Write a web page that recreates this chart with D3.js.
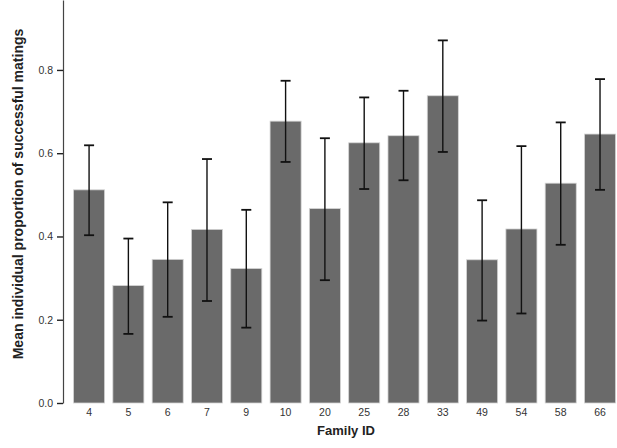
<!DOCTYPE html>
<html lang="en">
<head>
  <meta charset="UTF-8">
  <title>Mean individual proportion of successful matings</title>
  <script src="https://d3js.org/d3.v7.min.js"></script>
  <style>
    body {
      margin: 0;
      background: #fff;
      font-family: "Liberation Sans", Arial, sans-serif;
    }
    svg { display: block; }
  </style>
</head>
<body>
  <svg id="chart" width="617" height="448"></svg>
  <script>
    // Family IDs and mean proportions
    const families = ["4", "5", "6", "7", "9", "10", "20", "25", "28", "33", "49", "54", "58", "66"];
    const means = [0.512, 0.282, 0.345, 0.417, 0.323, 0.677, 0.467, 0.625, 0.642, 0.738, 0.344, 0.418, 0.528, 0.646];
    const errLow = [0.403, 0.166, 0.207, 0.245, 0.181, 0.579, 0.295, 0.514, 0.535, 0.603, 0.198, 0.215, 0.380, 0.512];
    const errHigh = [0.619, 0.395, 0.482, 0.586, 0.464, 0.774, 0.636, 0.734, 0.750, 0.871, 0.487, 0.617, 0.674, 0.778];
    const yTicks = [0.0, 0.2, 0.4, 0.6, 0.8];

    const data = families.map((f, i) => ({ id: f, mean: means[i], lo: errLow[i], hi: errHigh[i] }));

    const svg = d3.select("#chart");
    const axisX = 63, baseY = 403;

    const x = d3.scaleBand()
      .domain(families)
      .range([65.3, 623.8])
      .paddingInner(0.21)
      .paddingOuter(0.21);

    const y = d3.scaleLinear()
      .domain([0, 0.968])
      .range([baseY, 0]);

    // bars
    svg.append("g").selectAll("rect")
      .data(data)
      .join("rect")
      .attr("x", d => x(d.id))
      .attr("y", d => y(d.mean))
      .attr("width", x.bandwidth())
      .attr("height", d => y(0) - y(d.mean))
      .attr("fill", "#6a6a6a")
      .attr("stroke", "#d4d4d4")
      .attr("stroke-width", 0.8);

    // error bars
    const eb = svg.append("g").attr("stroke", "#111").attr("stroke-width", 1.4);
    const cx = d => x(d.id) + x.bandwidth() / 2;
    eb.selectAll("line.v").data(data).join("line").attr("class", "v")
      .attr("x1", cx).attr("x2", cx)
      .attr("y1", d => y(d.lo)).attr("y2", d => y(d.hi));
    eb.selectAll("line.t").data(data).join("line").attr("class", "t")
      .attr("x1", d => cx(d) - 5).attr("x2", d => cx(d) + 5)
      .attr("y1", d => y(d.hi)).attr("y2", d => y(d.hi))
      .attr("stroke-width", 1.8);
    eb.selectAll("line.b").data(data).join("line").attr("class", "b")
      .attr("x1", d => cx(d) - 5).attr("x2", d => cx(d) + 5)
      .attr("y1", d => y(d.lo)).attr("y2", d => y(d.lo))
      .attr("stroke-width", 1.8);

    // y axis
    const yAxis = svg.append("g")
      .attr("transform", `translate(${axisX},0)`)
      .call(d3.axisLeft(y).tickValues(yTicks).tickFormat(d3.format(".1f")).tickSize(6).tickSizeOuter(0));
    yAxis.select(".domain").attr("stroke", "#444").attr("stroke-width", 1.2);
    yAxis.selectAll(".tick line").attr("stroke", "#222").attr("stroke-width", 1.4);
    yAxis.selectAll(".tick text")
      .attr("x", -10)
      .attr("fill", "#333")
      .style("font-family", "'Liberation Sans', Arial, sans-serif")
      .style("font-size", "10.5px");

    // x axis (labels only)
    const xAxis = svg.append("g")
      .attr("transform", `translate(0,${baseY})`)
      .call(d3.axisBottom(x).tickSize(0));
    xAxis.select(".domain").remove();
    xAxis.selectAll(".tick text")
      .attr("y", 6)
      .attr("fill", "#333")
      .style("font-family", "'Liberation Sans', Arial, sans-serif")
      .style("font-size", "10.5px");

    // axis titles
    svg.append("text")
      .attr("x", 346)
      .attr("y", 435)
      .attr("text-anchor", "middle")
      .attr("fill", "#222")
      .style("font-weight", "bold")
      .style("font-size", "13px")
      .text("Family ID");

    svg.append("text")
      .attr("transform", "translate(23,194) rotate(-90)")
      .attr("text-anchor", "middle")
      .attr("fill", "#222")
      .style("font-weight", "bold")
      .style("font-size", "14px")
      .text("Mean individual proportion of successful matings");
  </script>
</body>
</html>
